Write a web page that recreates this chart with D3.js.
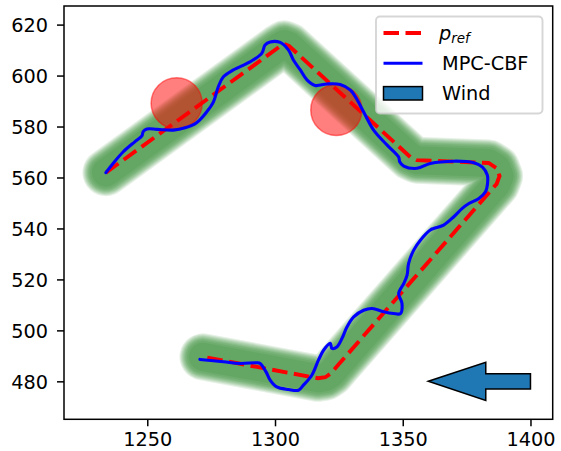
<!DOCTYPE html>
<html>
<head>
<meta charset="utf-8">
<script src="https://cdn.jsdelivr.net/npm/d3@7"></script>
<style>
  body { margin: 0; background: #fff; }
  text { font-family: 'DejaVu Sans', sans-serif; }
</style>
</head>
<body>
<script>
/* global d3 */
var width = 561
var height = 451
var fontSize = 19.3

// axis limits and ticks
var xLimits = [1217.4, 1408.7]
var yLimits = [465.1, 627.3]
var xTicks = [1250, 1300, 1350, 1400]
var yTicks = [480, 500, 520, 540, 560, 580, 600, 620]

// reference path p_ref
var refX = [1233.8, 1301.6, 1303.6, 1305.5, 1353.0, 1355.5, 1383.6, 1386.7, 1387.9, 1386.7, 1324.0, 1322.0, 1319.7, 1316.9, 1271.8]
var refY = [561.9, 611.2, 612.4, 611.6, 568.0, 566.8, 565.7, 563.7, 560.6, 557.4, 485.6, 483.2, 481.6, 481.2, 489.6]

// MPC-CBF trajectory
var mpcX = [1233.8, 1236.6, 1240.6, 1245.1, 1247.9, 1248.4, 1249.9, 1253.8, 1260.2, 1264.8,
  1269.3, 1273.3, 1275.9, 1277.8, 1279.8, 1283.7, 1290.2, 1294.8, 1296.1, 1298.1,
  1302.0, 1305.3, 1307.2, 1309.9, 1312.5, 1315.7, 1320.3, 1325.5, 1329.5, 1332.2,
  1334.7, 1338.6, 1343.9, 1348.4, 1348.8, 1350.4, 1355.6, 1360.8, 1370.0, 1377.8,
  1381.2, 1383.1, 1383.2, 1382.4, 1379.8, 1375.9, 1373.3, 1370.0, 1366.0, 1362.1,
  1360.8, 1356.9, 1354.3, 1352.3, 1351.7, 1350.4, 1348.4, 1349.7, 1349.1, 1346.4,
  1342.5, 1338.0, 1334.7, 1330.8, 1328.2, 1326.2, 1324.2, 1322.3, 1321.6, 1319.0,
  1317.0, 1314.4, 1311.1, 1309.2, 1305.3, 1300.7, 1298.1, 1296.5, 1294.2, 1292.9,
  1286.3, 1279.8, 1270.6]
var mpcY = [561.9, 565.5, 570.1, 574.0, 576.3, 578.0, 579.0, 578.9, 578.6, 579.5,
  581.5, 585.8, 589.7, 595.6, 599.5, 602.2, 605.4, 608.7, 612.0, 613.2,
  613.0, 610.0, 606.1, 602.2, 598.3, 596.1, 596.7, 596.5, 594.3, 590.4,
  585.7, 578.6, 572.7, 568.0, 566.2, 564.5, 563.6, 565.5, 566.4, 565.8,
  564.1, 561.0, 557.7, 554.4, 551.8, 549.8, 547.9, 544.6, 541.3, 540.0,
  539.4, 535.4, 531.5, 526.3, 521.7, 518.4, 514.5, 510.6, 506.6, 506.6,
  507.3, 508.6, 507.9, 505.3, 501.4, 496.8, 493.5, 492.9, 494.9, 492.2,
  488.3, 482.4, 478.5, 476.5, 476.8, 477.8, 480.5, 483.7, 487.0, 487.3,
  487.0, 487.7, 488.6]

// obstacles
var obstacleX = [1261.5, 1324.0]
var obstacleY = [589.1, 586.5]
var obstacleR = [10, 10]

// wind arrow
var windX = 1400
var windY = 480
var windDx = -40
var windWidth = 6
var windHeadWidth = 15
var windHeadLength = 22.5

var legendLabels = ['p_ref', 'MPC-CBF', 'Wind']

var x = d3.scaleLinear().domain(xLimits).range([64, 552.7])
var y = d3.scaleLinear().domain(yLimits).range([419.3, 6])

var svg = d3.select('body').append('svg')
  .attr('width', width)
  .attr('height', height)

var refPoints = d3.zip(refX, refY)
var mpcPoints = d3.zip(mpcX, mpcY)

var line = d3.line()
  .x(function (d) { return x(d[0]) })
  .y(function (d) { return y(d[1]) })

// corridor: stacked translucent green strokes for soft edges
var corridorHalfWidths = [23.5, 22.5, 21.5, 20.5, 19.5, 18.5, 17.5, 16, 14]
svg.append('g').selectAll('path')
  .data(corridorHalfWidths)
  .enter()
  .append('path')
  .attr('d', line(refPoints))
  .attr('fill', 'none')
  .attr('stroke', '#0a7a0a')
  .attr('stroke-opacity', 0.1)
  .attr('stroke-width', function (d) { return 2 * d })
  .attr('stroke-linecap', 'round')
  .attr('stroke-linejoin', 'round')

// obstacles
svg.append('g').selectAll('circle')
  .data(d3.range(obstacleX.length))
  .enter()
  .append('circle')
  .attr('cx', function (i) { return x(obstacleX[i]) })
  .attr('cy', function (i) { return y(obstacleY[i]) })
  .attr('r', function (i) { return x(obstacleX[i] + obstacleR[i]) - x(obstacleX[i]) })
  .attr('fill', 'red')
  .attr('fill-opacity', 0.5)
  .attr('stroke', 'red')
  .attr('stroke-opacity', 0.5)
  .attr('stroke-width', 1.5)

// reference path
svg.append('path')
  .attr('d', line(refPoints))
  .attr('fill', 'none')
  .attr('stroke', 'red')
  .attr('stroke-width', 3.9)
  .attr('stroke-dasharray', '15.5,6.5')

// MPC-CBF path
svg.append('path')
  .attr('d', line.curve(d3.curveCatmullRom.alpha(0.5))(mpcPoints))
  .attr('fill', 'none')
  .attr('stroke', 'blue')
  .attr('stroke-width', 3.1)
  .attr('stroke-linejoin', 'round')
  .attr('stroke-linecap', 'round')
line.curve(d3.curveLinear)

// wind arrow (tail at windX, tip at windX + windDx)
var tipX = windX + windDx
var headBase = tipX + windHeadLength
var arrowPoly = [
  [tipX, windY],
  [headBase, windY + windHeadWidth / 2],
  [headBase, windY + windWidth / 2],
  [windX, windY + windWidth / 2],
  [windX, windY - windWidth / 2],
  [headBase, windY - windWidth / 2],
  [headBase, windY - windHeadWidth / 2]
]
svg.append('path')
  .attr('d', line(arrowPoly) + 'Z')
  .attr('fill', '#1f77b4')
  .attr('stroke', 'black')
  .attr('stroke-width', 1.5)
  .attr('stroke-linejoin', 'miter')

// axes
var xAxis = svg.append('g')
  .attr('transform', 'translate(0,419.3)')
  .call(d3.axisBottom(x).tickValues(xTicks).tickFormat(d3.format('d'))
    .tickSize(7).tickSizeOuter(0).tickPadding(6.5))
var yAxis = svg.append('g')
  .attr('transform', 'translate(64,0)')
  .call(d3.axisLeft(y).tickValues(yTicks).tickFormat(d3.format('d'))
    .tickSize(7).tickSizeOuter(0).tickPadding(9))

;[xAxis, yAxis].forEach(function (ax) {
  ax.select('.domain').remove()
  ax.selectAll('line').attr('stroke', 'black').attr('stroke-width', 1.5)
  ax.selectAll('text')
    .attr('font-size', fontSize)
    .attr('font-family', 'DejaVu Sans')
    .attr('fill', 'black')
})
yAxis.selectAll('text').attr('dy', '0.37em')

// frame
svg.append('rect')
  .attr('x', 64)
  .attr('y', 6)
  .attr('width', 552.7 - 64)
  .attr('height', 419.3 - 6)
  .attr('fill', 'none')
  .attr('stroke', 'black')
  .attr('stroke-width', 1.5)

// legend
var legend = svg.append('g')
legend.append('rect')
  .attr('x', 376)
  .attr('y', 16.5)
  .attr('width', 166.5)
  .attr('height', 97)
  .attr('rx', 4)
  .attr('fill', 'white')
  .attr('fill-opacity', 0.8)
  .attr('stroke', '#cccccc')
  .attr('stroke-opacity', 0.8)
  .attr('stroke-width', 1.9)

var rowY = [33, 63.3, 93.3]
legend.append('line')
  .attr('x1', 383.5).attr('x2', 422.5)
  .attr('y1', rowY[0]).attr('y2', rowY[0])
  .attr('stroke', 'red')
  .attr('stroke-width', 3.9)
  .attr('stroke-dasharray', '15.5,6.5')
legend.append('line')
  .attr('x1', 383.5).attr('x2', 422.5)
  .attr('y1', rowY[1]).attr('y2', rowY[1])
  .attr('stroke', 'blue')
  .attr('stroke-width', 3.1)
legend.append('rect')
  .attr('x', 383.5)
  .attr('y', rowY[2] - 6.7)
  .attr('width', 39)
  .attr('height', 13.4)
  .attr('fill', '#1f77b4')
  .attr('stroke', 'black')
  .attr('stroke-width', 1.5)

var refLabel = legend.append('text')
  .attr('x', 439)
  .attr('y', rowY[0] + 6.5)
  .attr('font-size', fontSize)
refLabel.append('tspan')
  .attr('font-style', 'italic')
  .text(legendLabels[0].split('_')[0])
refLabel.append('tspan')
  .attr('font-style', 'italic')
  .attr('font-size', 13.5)
  .attr('dy', 3.5)
  .text(legendLabels[0].split('_')[1])

legend.selectAll('.lbl')
  .data(legendLabels.slice(1))
  .enter()
  .append('text')
  .attr('class', 'lbl')
  .attr('x', 442)
  .attr('y', function (d, i) { return rowY[i + 1] + 6.8 })
  .attr('font-size', fontSize)
  .text(function (d) { return d })
</script>
</body>
</html>
